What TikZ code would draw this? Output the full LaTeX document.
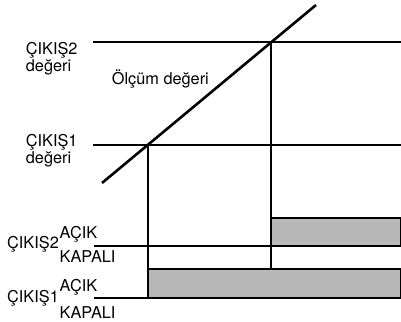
\documentclass[tikz,border=0pt]{standalone}
\usepackage{fontspec}
\setmainfont{TeX Gyre Heros}
\begin{document}
\begin{tikzpicture}[x=1bp,y=-1bp,
  lbl/.style={anchor=base west,inner sep=0pt,font=\fontsize{16.3bp}{18bp}\selectfont},
  thin line/.style={line width=1.1bp},
  meas/.style={line width=2.6bp},
  bar/.style={fill=black!28,draw=black,line width=1.1bp}]
\useasboundingbox (0,0) rectangle (401,322);
% coordinates
\coordinate (l2a) at (93,42);  \coordinate (l2b) at (401,42);
\coordinate (l1a) at (93,145); \coordinate (l1b) at (401,145);
\coordinate (p1) at (148,145); \coordinate (p2) at (271,42);
\coordinate (ms) at (102,183); \coordinate (me) at (316,5);
\coordinate (o2a) at (94,246); \coordinate (o2b) at (271,246);
\coordinate (o1a) at (94,298); \coordinate (o1b) at (148,298);
\coordinate (b2a) at (271,218); \coordinate (b2b) at (401,246);
\coordinate (b1a) at (148,269); \coordinate (b1b) at (401,298);
% bars
\draw[bar] (b2a) rectangle (b2b);
\draw[bar] (b1a) rectangle (b1b);
% lines
\draw[thin line] (l2a) -- (l2b);
\draw[thin line] (l1a) -- (l1b);
\draw[thin line] (p1) -- (o1b);
\draw[thin line] (p2) -- (b1a -| p2);
\draw[thin line] (o2a) -- (o2b);
\draw[thin line] (o1a) -- (o1b);
\draw[meas] (ms) -- (me);
% labels
\node[lbl] (t2) at (25.7,54) {ÇIKIŞ2};
\node[lbl] (t2d) at (25.7,71.7) {değeri};
\node[lbl] (t1) at (25.7,146) {ÇIKIŞ1};
\node[lbl] (t1d) at (25.7,163.5) {değeri};
\node[lbl] (olc) at (111.7,84) {Ölçüm değeri};
\node[lbl] (c2) at (7,248) {ÇIKIŞ2};
\node[lbl] (c2a) at (59.5,238) {AÇIK};
\node[lbl] (c2k) at (59.5,262) {KAPALI};
\node[lbl] (c1) at (7,302) {ÇIKIŞ1};
\node[lbl] (c1a) at (59.5,291) {AÇIK};
\node[lbl] (c1k) at (59.5,318) {KAPALI};
\end{tikzpicture}
\end{document}
